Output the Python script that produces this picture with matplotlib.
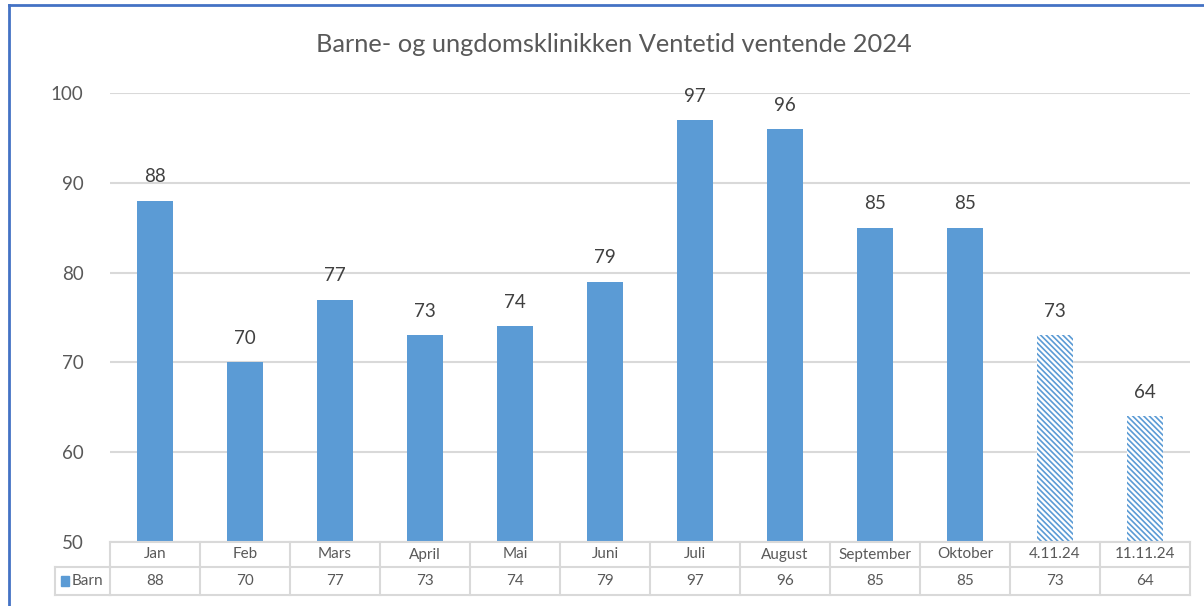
import matplotlib
matplotlib.use("Agg")
import matplotlib.pyplot as plt
from matplotlib.patches import Rectangle
from matplotlib.lines import Line2D
import matplotlib.transforms as mtrans

categories = ["Jan", "Feb", "Mars", "April", "Mai", "Juni", "Juli", "August",
              "September", "Oktober", "4.11.24", "11.11.24"]
values = [88, 70, 77, 73, 74, 79, 97, 96, 85, 85, 73, 64]
hatched = [False] * 10 + [True, True]
series_name = "Barn"
title = "Barne- og ungdomsklinikken Ventetid ventende 2024"
yticks = [50, 60, 70, 80, 90, 100]

BLUE = "#5b9bd5"
GRID = "#d9d9d9"
TXT = "#595959"
LBL = "#404040"

plt.rcParams['font.family'] = ['Lato', 'DejaVu Sans']
plt.rcParams['hatch.color'] = BLUE
plt.rcParams['hatch.linewidth'] = 1.2

W, H = 1204, 606
fig = plt.figure(figsize=(W / 100, H / 100), dpi=100)
ax = fig.add_axes([110 / W, 1 - 542 / H, (1190 - 110) / W, (542 - 93) / H])

for i, (v, h) in enumerate(zip(values, hatched)):
    if h:
        ax.bar(i, v - 50, bottom=50, width=0.39, color="white", edgecolor=BLUE,
               linewidth=0, hatch="\\\\\\\\\\\\", zorder=2)
    else:
        ax.bar(i, v - 50, bottom=50, width=0.39, color=BLUE, linewidth=0, zorder=2)
    ax.text(i, v + 1.7, str(v), ha="center", va="bottom", fontsize=13.5, color=LBL)

ax.set_xlim(-0.5, len(categories) - 0.5)
ax.set_ylim(50, 100)
ax.set_yticks(yticks)
ax.set_yticklabels([str(t) for t in yticks], fontsize=13.5, color=TXT)
ax.tick_params(axis="y", length=0, pad=19)
ax.set_xticks([])
for s in ax.spines.values():
    s.set_visible(False)
ax.grid(axis="y", color=GRID, linewidth=1.5, zorder=0)
ax.set_axisbelow(True)

# data table
trans = mtrans.blended_transform_factory(ax.transData, ax.transAxes)
ph = 542 - 93
r1 = -(567 - 542) / ph
r2 = -(595 - 542) / ph
lw = 1.5
n = len(categories)
ax.add_line(Line2D([-0.5, n - 0.5], [0, 0], transform=trans, color=GRID, lw=lw, clip_on=False))
ax.add_line(Line2D([-0.5, n - 0.5], [r1, r1], transform=trans, color=GRID, lw=lw, clip_on=False))
ax.add_line(Line2D([-0.5, n - 0.5], [r2, r2], transform=trans, color=GRID, lw=lw, clip_on=False))
for k in range(n + 1):
    ax.add_line(Line2D([k - 0.5, k - 0.5], [0, r2], transform=trans, color=GRID, lw=lw, clip_on=False))
lx0 = (55 - 110) / (1190 - 110) * n - 0.5
ax.add_line(Line2D([lx0, -0.5], [r1, r1], transform=trans, color=GRID, lw=lw, clip_on=False))
ax.add_line(Line2D([lx0, -0.5], [r2, r2], transform=trans, color=GRID, lw=lw, clip_on=False))
ax.add_line(Line2D([lx0, lx0], [r1, r2], transform=trans, color=GRID, lw=lw, clip_on=False))
for i, c in enumerate(categories):
    ax.text(i, r1 / 2, c, transform=trans, ha="center", va="center", fontsize=11, color=TXT)
    ax.text(i, (r1 + r2) / 2, str(values[i]), transform=trans, ha="center", va="center",
            fontsize=11, color=TXT)
ax.add_patch(Rectangle((lx0 + 0.07, (r1 + r2) / 2 - 0.012), 0.09, 0.024, transform=trans,
                       color=BLUE, clip_on=False))
ax.text(lx0 + 0.19, (r1 + r2) / 2, series_name, transform=trans, ha="left", va="center",
        fontsize=11, color=TXT)

fig.text(614 / W, 1 - 45 / H, title, ha="center", va="center", fontsize=18.3, color=TXT)

# outer border
fig.add_artist(Line2D([9 / W, 9 / W], [0, 1 - 5 / H], transform=fig.transFigure,
                      color="#4472c4", lw=2))
fig.add_artist(Line2D([9 / W, 1], [1 - 5 / H, 1 - 5 / H], transform=fig.transFigure,
                      color="#4472c4", lw=2))

fig.savefig("out.png", dpi=100, facecolor="white")
